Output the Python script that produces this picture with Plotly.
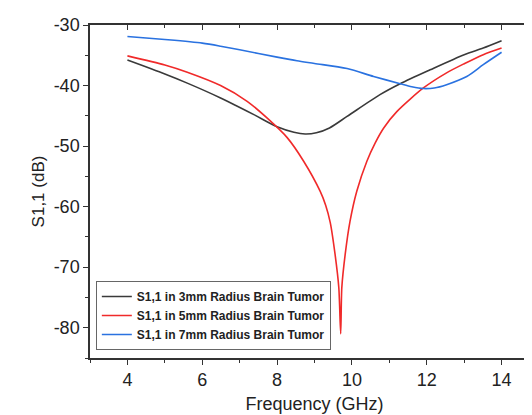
import plotly.graph_objects as go

f_3mm = [4.0, 5.0, 5.6, 6.49, 7.38, 8.0, 8.45, 8.75, 9.05, 9.4, 9.87, 10.75, 11.29, 12.09, 13.0, 13.51, 14.0]
s_3mm = [-35.8, -38.1, -39.6, -42.05, -44.8, -46.8, -47.7, -48.0, -47.8, -47.0, -45.1, -41.5, -39.7, -37.4, -34.9, -33.8, -32.6]

f_5mm = [4.0, 5.0, 5.6, 6.49, 7.2, 7.73, 8.27, 8.71, 9.15, 9.3, 9.42, 9.55, 9.65, 9.70,
         9.73, 9.82, 9.95, 10.13, 10.4, 10.62, 10.85, 11.2, 11.91, 12.53, 13.0, 13.51, 14.0]
s_5mm = [-35.1, -36.6, -37.8, -40.0, -42.6, -45.35, -48.6, -52.5, -57.45, -59.8, -62.6, -67.9, -73.4, -81.0,
         -73.4, -67.9, -62.4, -57.45, -52.5, -49.5, -47.0, -44.3, -40.4, -37.9, -36.4, -34.9, -33.8]

f_7mm = [4.0, 5.0, 6.0, 6.49, 7.0, 8.0, 8.53, 9.0, 9.87, 10.58, 11.29, 11.6, 11.91, 12.2, 12.53, 13.07, 13.51, 14.0]
s_7mm = [-31.9, -32.4, -33.0, -33.5, -34.1, -35.3, -35.9, -36.35, -37.2, -38.5, -39.7, -40.2, -40.5, -40.4, -39.85, -38.5, -36.55, -34.5]

names = ["S1,1 in 3mm Radius Brain Tumor", "S1,1 in 5mm Radius Brain Tumor", "S1,1 in 7mm Radius Brain Tumor"]
colors = ["#3a3a3a", "#f02a2a", "#2a72e0"]
smooth = [0.8, 0.7, 0.8]

x_ticks = [4, 6, 8, 10, 12, 14]
x_ticktext = ["4", "6", "8", "10", "12", "14"]
y_ticks = [-80, -70, -60, -50, -40, -30]
y_ticktext = ["-80", "-70", "-60", "-50", "-40", "-30"]

fig = go.Figure()
for f, s, n, c, sm in zip([f_3mm, f_5mm, f_7mm], [s_3mm, s_5mm, s_7mm], names, colors, smooth):
    fig.add_trace(go.Scatter(x=f, y=s, name=n, mode="lines",
                             line=dict(color=c, width=1.6, shape="spline", smoothing=sm)))

# dummy trace for mirrored inside-tick axes
fig.add_trace(go.Scatter(x=[None], y=[None], xaxis="x2", yaxis="y2", showlegend=False, hoverinfo="skip"))

FONT = "Liberation Sans, Arial"
axis_font = dict(family=FONT, size=18, color="#222")
fig.update_layout(
    width=532, height=415,
    margin=dict(l=82, r=1, t=17, b=65),
    paper_bgcolor="white", plot_bgcolor="white",
    font=dict(family=FONT, color="#222"),
    xaxis=dict(range=[3, 15], tickvals=x_ticks, ticktext=x_ticktext, ticks="outside", ticklen=5, tickwidth=1.2,
               tickcolor="#333", showline=True, linecolor="#333", linewidth=1.5, showgrid=False, zeroline=False,
               tickfont=axis_font, automargin=False,
               minor=dict(dtick=1, tick0=3, ticks="outside", ticklen=3, tickcolor="#333", showgrid=False),
               title=dict(text="Frequency (GHz)", font=dict(family=FONT, size=18, color="#222"), standoff=8)),
    yaxis=dict(range=[-85, -30], tickvals=y_ticks, ticktext=y_ticktext, ticks="outside", ticklen=5, tickwidth=1.2,
               tickcolor="#333", showline=True, linecolor="#333", linewidth=1.5, showgrid=False, zeroline=False,
               tickfont=axis_font, automargin=False,
               minor=dict(dtick=5, tick0=-85, ticks="outside", ticklen=3, tickcolor="#333", showgrid=False),
               title=dict(text="S1,1 (dB)", font=dict(family=FONT, size=17, color="#222"), standoff=5)),
    xaxis2=dict(range=[3, 15], overlaying="x", side="top", tickvals=x_ticks, ticks="inside", ticklen=5, tickwidth=1.2,
                tickcolor="#333", showticklabels=False, showline=True, linecolor="#333", linewidth=1.5,
                showgrid=False, zeroline=False, automargin=False,
                minor=dict(dtick=1, tick0=3, ticks="inside", ticklen=3, tickcolor="#333", showgrid=False)),
    yaxis2=dict(range=[-85, -30], overlaying="y", side="right", tickvals=y_ticks, ticks="inside", ticklen=5, tickwidth=1.2,
                tickcolor="#333", showticklabels=False, showline=True, linecolor="#333", linewidth=1.5,
                showgrid=False, zeroline=False, automargin=False,
                minor=dict(dtick=5, tick0=-85, ticks="inside", ticklen=3, tickcolor="#333", showgrid=False)),
    legend=dict(x=0.013, y=0.024, xanchor="left", yanchor="bottom",
                bgcolor="white", bordercolor="#666", borderwidth=1,
                font=dict(family=FONT, size=12, color="#222", weight="bold"),
                itemwidth=30, tracegroupgap=0),
    showlegend=True,
)

fig.write_html("out.html")
